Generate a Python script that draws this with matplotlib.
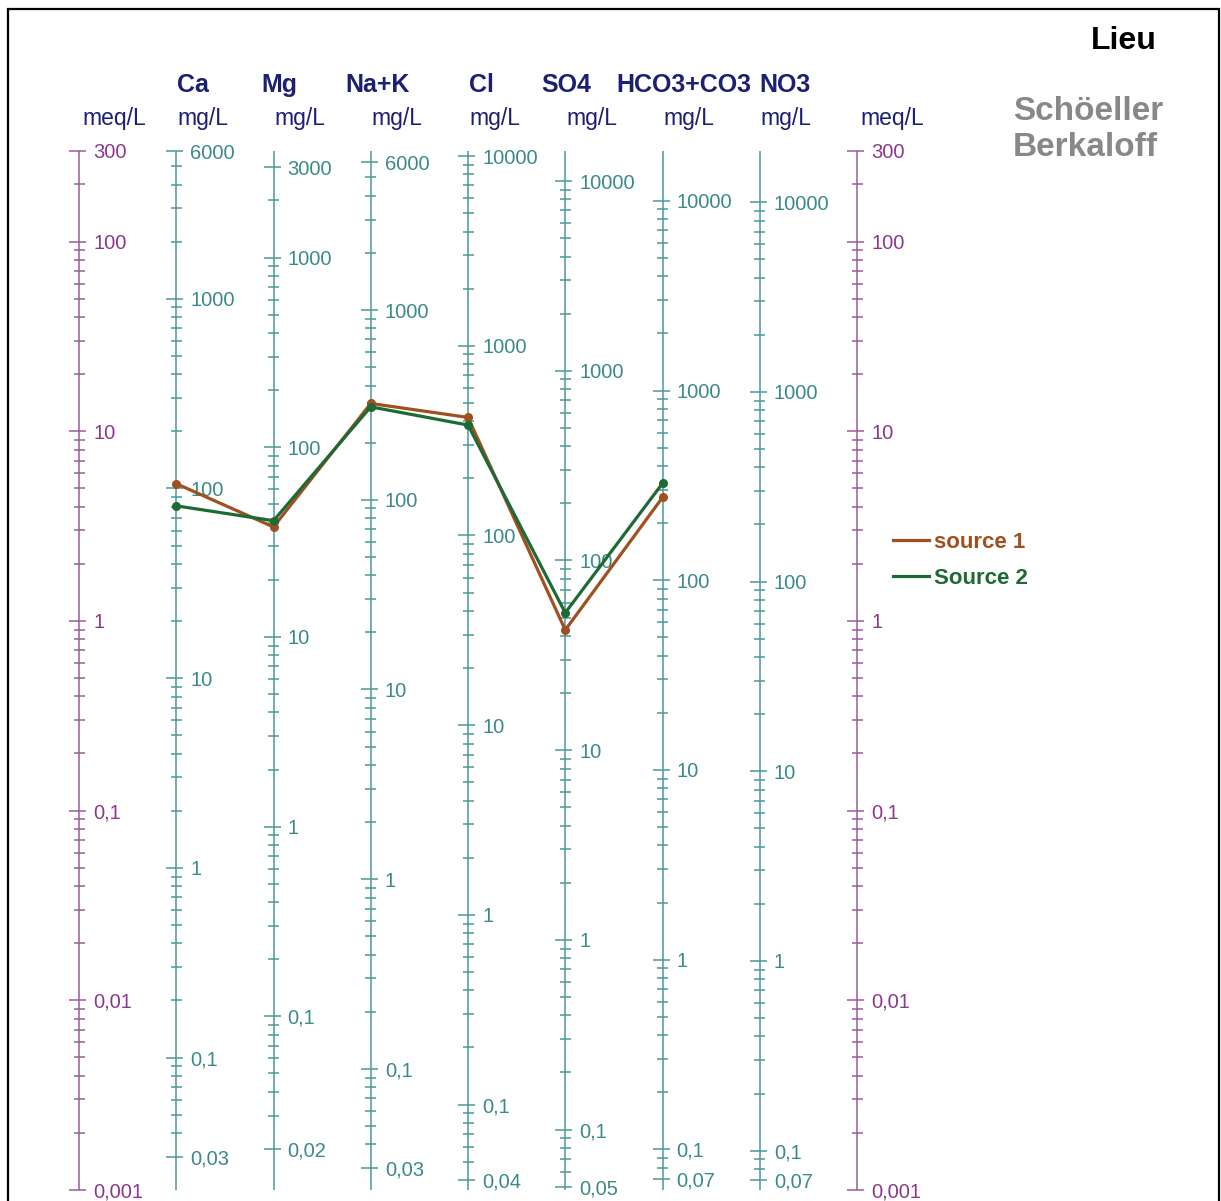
import numpy as np
import matplotlib.pyplot as plt
from matplotlib.lines import Line2D
from matplotlib.patches import Rectangle

plt.rcParams['font.family'] = ['Liberation Sans', 'DejaVu Sans']

# ions of the diagram and their equivalent weight (mg per meq)
ions = ['Ca', 'Mg', 'Na+K', 'Cl', 'SO4', 'HCO3+CO3', 'NO3']
eq_weight = [20.04, 12.15, 22.99, 35.45, 48.03, 61.02, 62.0]
top_values = [6000, 3000, 6000, 10000, 10000, 10000, 10000]
bottom_values = [0.03, 0.02, 0.03, 0.04, 0.05, 0.07, 0.07]
meq_top, meq_bottom = 300, 0.001

# concentrations in mg/L (no NO3 value)
sample_names = ['source 1', 'Source 2']
source_1 = [106, 38, 322, 419, 43, 273, np.nan]
source_2 = [81, 41, 309, 382, 53, 324, np.nan]
sample_colors = ['#a0501f', '#1e6a35']

# layout, in pixels of the 1221x1201 picture
W, H = 1221, 1201
x0_px, step_px = 79, 97.25
ytop_px, ybot_px = 151, 1190
name_shift_px = [1, -12, -25, 1, -24, -46, 0]

teal, teal_line = '#3a8a8a', '#4b9898'
purple, purple_line = '#8a3a8a', '#9a5c9a'
navy = '#1c1f72'

fig = plt.figure(figsize=(W / 100, H / 100), dpi=100)
ax = fig.add_axes([0, 0, 1, 1])
ax.set_yscale('log')
dec = (ybot_px - ytop_px) / np.log10(meq_top / meq_bottom)
ax.set_ylim(10 ** (np.log10(meq_bottom) - (H - ybot_px) / dec),
            10 ** (np.log10(meq_top) + ytop_px / dec))
ax.set_xlim(-x0_px / step_px, (W - x0_px) / step_px)
ax.axis('off')


def fpx(x, y):
    return x / W, 1 - y / H


def fmt(v):
    return f'{v:g}'.replace('.', ',')


def draw_scale(x, w, top, bottom, color, lcolor):
    # w converts meq/L to the unit of the scale
    lo, hi = meq_bottom * w, meq_top * w
    ax.vlines(x, meq_bottom, meq_top, color=lcolor, lw=1.1)
    minor = [k * 10.0 ** n for n in range(-4, 6) for k in range(1, 10)]
    minor = [v for v in minor if lo * 0.999 <= v <= hi * 1.001]
    major = [v for v in minor if np.isclose(np.log10(v), round(np.log10(v)))
             and v <= top * 1.001 and v >= bottom * 0.999]
    major = sorted(set([top, bottom] + major), reverse=True)
    small = [v for v in minor if not any(np.isclose(v, m) for m in major)]
    s = 1 / step_px
    ax.hlines(np.array(small) / w, x - 5.5 * s, x + 5.5 * s, color=lcolor, lw=1.1)
    ax.hlines(np.array(major) / w, x - 10 * s, x + 7 * s, color=lcolor, lw=1.1)
    for v in major:
        ax.text(x + 14 * s, v / w, fmt(v), color=color, fontsize=14.5,
                ha='left', va='center_baseline')


# meq/L scales on both sides
for x in [0, 8]:
    draw_scale(x, 1, meq_top, meq_bottom, purple, purple_line)
    fig.text(*fpx(x0_px + x * step_px + 3, 119), 'meq/L', color=navy,
             fontsize=16.5, ha='left', va='center')

# one mg/L scale per ion
for i, ion in enumerate(ions):
    x = i + 1
    draw_scale(x, eq_weight[i], top_values[i], bottom_values[i], teal, teal_line)
    xp = x0_px + x * step_px
    fig.text(*fpx(xp + 1, 119), 'mg/L', color=navy, fontsize=16.5,
             ha='left', va='center')
    fig.text(*fpx(xp + name_shift_px[i], 85), ion, color=navy, fontsize=18,
             fontweight='bold', ha='left', va='center')

# samples, converted to meq/L
xs = np.arange(1, len(ions) + 1)
handles = []
for name, vals, c in zip(sample_names, [source_1, source_2], sample_colors):
    meq = np.array(vals) / np.array(eq_weight)
    ax.plot(xs, meq, color=c, lw=2.3, marker='o', ms=5.5, zorder=5)
    handles.append(Line2D([], [], color=c, lw=2.3))

leg = fig.legend(handles, sample_names, loc='upper left',
                 bbox_to_anchor=fpx(882, 521), frameon=False,
                 prop={'size': 16, 'weight': 'bold'}, handlelength=1.6,
                 handletextpad=0.25, labelspacing=0.65, borderpad=0)
for t, c in zip(leg.get_texts(), sample_colors):
    t.set_color(c)

fig.text(*fpx(1157, 41), 'Lieu', fontsize=23, fontweight='bold',
         ha='right', va='center', color='black')
fig.text(*fpx(1013, 112), 'Schöeller', fontsize=24, fontweight='bold',
         ha='left', va='center', color='#888888')
fig.text(*fpx(1013, 148), 'Berkaloff', fontsize=24, fontweight='bold',
         ha='left', va='center', color='#888888')

# frame around the sheet
fig.patches.append(Rectangle(fpx(8, 1230), 1211 / W, 1221 / H, fill=False,
                             ec='black', lw=1.6, transform=fig.transFigure))

fig.savefig('out.png', dpi=100)
